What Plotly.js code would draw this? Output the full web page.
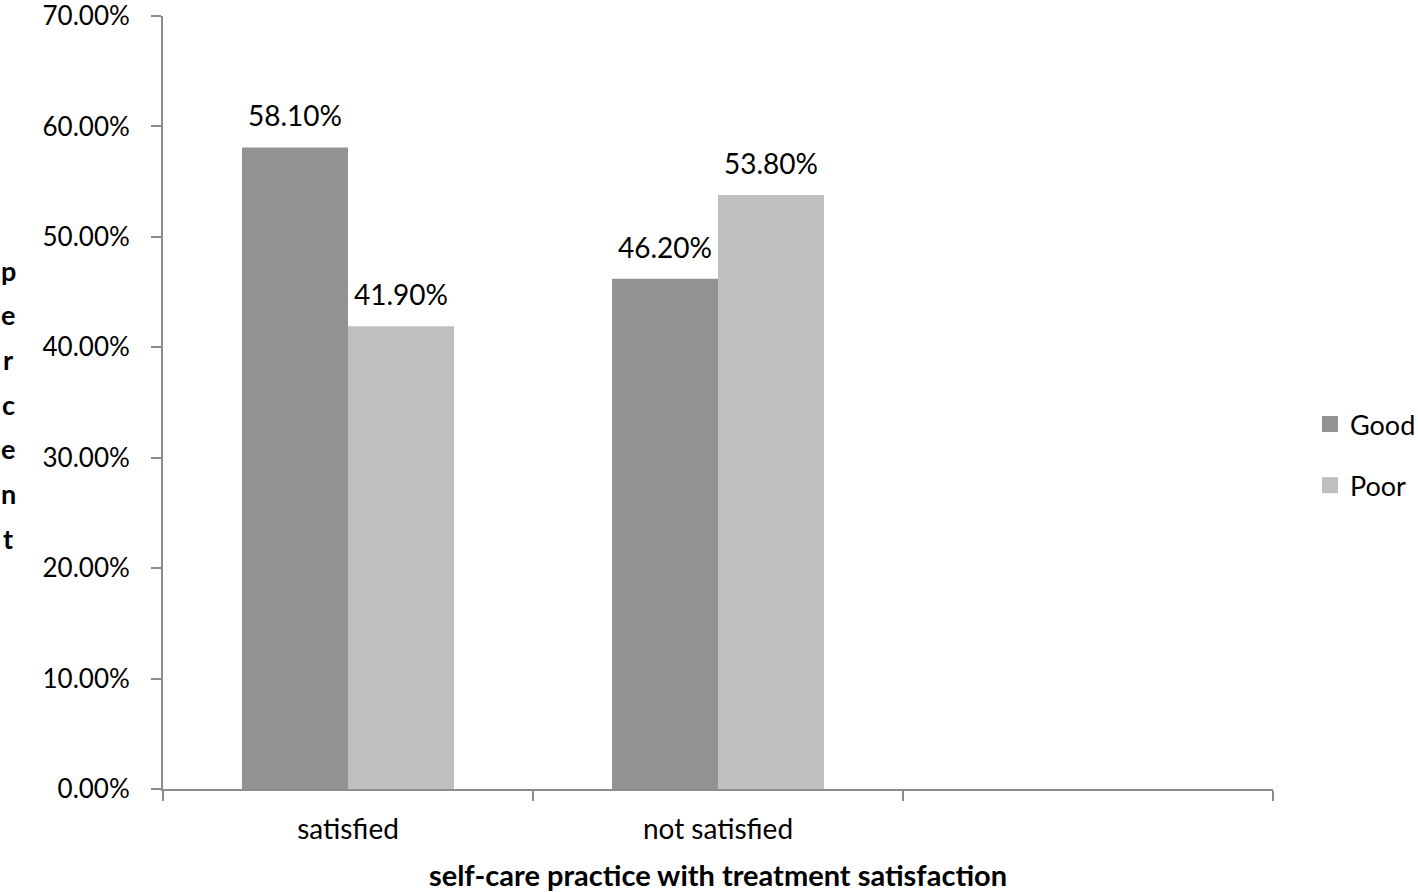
<!DOCTYPE html>
<html>
<head>
<meta charset="utf-8">
<script src="https://cdn.plot.ly/plotly-3.0.1.min.js"></script>
<style>html,body{margin:0;padding:0;background:#fff;}#chart{width:1418px;height:892px;}</style>
</head>
<body>
<div id="chart"></div>
<script>
const categories = ["satisfied", "not satisfied", " "];
const seriesNames = ["Good", "Poor"];
const goodValues = [58.1, 46.2];
const poorValues = [41.9, 53.8];
const yTickValues = [0, 10, 20, 30, 40, 50, 60, 70];
const yTickLabels = ["0.00%", "10.00%", "20.00%", "30.00%", "40.00%", "50.00%", "60.00%", "70.00%"];
const xTitle = "self-care practice with treatment satisfaction";
const yTitle = "percent";

const FONT = "Lato, 'Open Sans', sans-serif";
const colors = ["#929292", "#bfbfbf"];
const values = [goodValues, poorValues];

const traces = seriesNames.map((name, i) => ({
  type: "bar",
  name: name,
  x: categories.slice(0, values[i].length),
  y: values[i],
  marker: { color: colors[i], line: { width: 0 } },
  showlegend: false,
  hoverinfo: "x+y+name"
}));
seriesNames.forEach((name, i) => {
  traces.push({
    type: "scatter", mode: "markers", name: name,
    x: [null], y: [null],
    marker: { symbol: "square", size: 16, color: colors[i], line: { width: 0 } },
    legendgroup: name, showlegend: true, hoverinfo: "skip"
  });
});

const T = 16, B = 103, PH = 892 - T - B;
const annotations = [];
values.forEach((vals, i) => {
  vals.forEach((v, j) => {
    annotations.push({
      x: categories[j], y: v, xref: "x", yref: "y",
      text: v.toFixed(2) + "%",
      showarrow: false, yanchor: "middle", yshift: 32,
      xshift: (i === 0 ? -53 : 53),
      font: { family: FONT, size: 28, color: "#000" }
    });
  });
});
const letters = yTitle.split("");
letters.forEach((ch, k) => {
  annotations.push({
    xref: "paper", yref: "paper",
    x: (8 - 163) / 1110, y: ((892 - B) - (270 + k * 44.7)) / PH,
    text: "<b>" + ch + "</b>", showarrow: false,
    xanchor: "center", yanchor: "middle",
    font: { family: FONT, size: 27, color: "#000" }
  });
});

const layout = {
  width: 1418, height: 892,
  margin: { l: 163, r: 145, t: T, b: B, pad: 0, autoexpand: false },
  paper_bgcolor: "#fff", plot_bgcolor: "#fff",
  barmode: "group", bargap: 0.427, bargroupgap: 0,
  font: { family: FONT, size: 28, color: "#000" },
  xaxis: {
    type: "category",
    categoryorder: "array", categoryarray: categories,
    range: [-0.5, 2.5],
    showline: true, linecolor: "#8c8c8c", linewidth: 2,
    ticks: "outside", tickson: "boundaries", ticklen: 10, tickwidth: 2, tickcolor: "#8c8c8c",
    ticklabelstandoff: 14,
    showgrid: false, zeroline: false,
    tickfont: { family: FONT, size: 28, color: "#000" },
    title: { text: "<b>" + xTitle + "</b>", font: { family: FONT, size: 29, color: "#000" }, standoff: 27 },
    fixedrange: true
  },
  yaxis: {
    range: [0, 70],
    tickvals: yTickValues, ticktext: yTickLabels,
    showline: true, linecolor: "#8c8c8c", linewidth: 2,
    ticks: "outside", ticklen: 10, tickwidth: 2, tickcolor: "#8c8c8c",
    ticklabelstandoff: 16, ticklabeloverflow: "allow",
    showgrid: false, zeroline: false,
    tickfont: { family: FONT, size: 26, color: "#000" },
    fixedrange: true
  },
  showlegend: true,
  legend: {
    x: (1310 - 163) / 1110, xanchor: "left",
    y: ((892 - B) - 455) / PH, yanchor: "middle",
    traceorder: "grouped", tracegroupgap: 23,
    font: { family: FONT, size: 27, color: "#000" },
    bgcolor: "rgba(0,0,0,0)", itemclick: false, itemdoubleclick: false
  },
  annotations: annotations
};

Plotly.newPlot("chart", traces, layout, { displayModeBar: false, staticPlot: true });
</script>
</body>
</html>
